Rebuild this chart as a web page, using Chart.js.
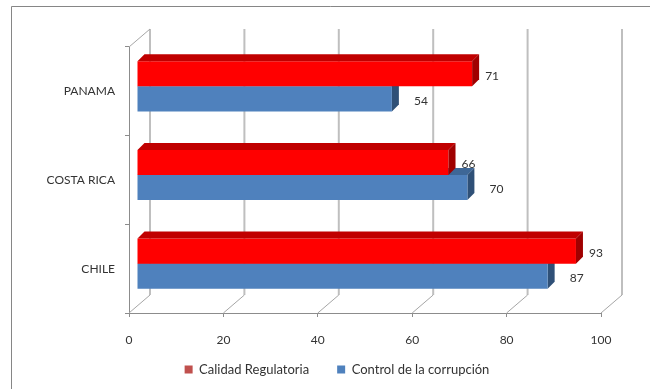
<!DOCTYPE html>
<html lang="es">
<head>
    <meta charset="UTF-8">
    <title>Calidad Regulatoria y Control de la corrupción</title>
    <script src="https://cdn.jsdelivr.net/npm/chart.js"></script>
    <style>
        body { margin: 0; background: #ffffff; }
        canvas { display: block; }
    </style>
</head>
<body>
    <canvas id="myChart" width="650" height="389"></canvas>

    <script>
        // datos
        const categories = ['PANAMA', 'COSTA RICA', 'CHILE'];
        const seriesNames = ['Calidad Regulatoria', 'Control de la corrupción'];
        const calidadRegulatoria = [71, 66, 93];
        const controlCorrupcion = [54, 70, 87];
        const xTickValues = [0, 20, 40, 60, 80, 100];

        const frontColors = ['#ff0000', '#4f81bd'];
        const topColors = ['#c00000', '#3e6797'];
        const sideColors = ['#a00000', '#2f5077'];
        const legendColors = ['#c0504d', '#4f81bd'];
        const labelOffsets = [20, 29];
        const font = { family: 'Lato', size: 12 };
        const legendFont = { family: 'Lato', size: 13 };
        const textColor = '#333333';
        const axisColor = '#8c8c8c';

        // desplazamientos del efecto 3D
        const wallDx = 21, wallDy = -18;
        const barDx = 8, barDy = -5;
        const depth = 7;

        function drawFaces(ctx, chart, i) {
            chart.getDatasetMeta(i).data.forEach(bar => {
                const p = bar.getProps(['x', 'y', 'base', 'height'], true);
                const top = p.y - p.height / 2, bottom = p.y + p.height / 2;
                ctx.fillStyle = topColors[i];
                ctx.beginPath();
                ctx.moveTo(p.base, top);
                ctx.lineTo(p.x, top);
                ctx.lineTo(p.x + depth, top - depth);
                ctx.lineTo(p.base + depth, top - depth);
                ctx.closePath();
                ctx.fill();
                ctx.fillStyle = sideColors[i];
                ctx.beginPath();
                ctx.moveTo(p.x, top);
                ctx.lineTo(p.x + depth, top - depth);
                ctx.lineTo(p.x + depth, bottom - depth);
                ctx.lineTo(p.x, bottom);
                ctx.closePath();
                ctx.fill();
            });
        }

        const plot3d = {
            id: 'plot3d',
            beforeDraw(chart) {
                const ctx = chart.ctx;
                ctx.save();
                ctx.fillStyle = '#ffffff';
                ctx.fillRect(0, 0, chart.width, chart.height);
                ctx.strokeStyle = '#868686';
                ctx.lineWidth = 1;
                ctx.beginPath();
                ctx.moveTo(11.5, chart.height);
                ctx.lineTo(11.5, 6.5);
                ctx.lineTo(chart.width, 6.5);
                ctx.stroke();
                ctx.restore();
            },
            afterLayout(chart) {
                // colocar la leyenda como en el original
                chart.legend.left += 31;
                chart.legend.right += 31;
                chart.legend.top -= 18;
            },
            beforeDatasetsDraw(chart) {
                const ctx = chart.ctx;
                const area = chart.chartArea;
                const x = chart.scales.x;
                ctx.save();
                // pared del fondo y suelo
                xTickValues.forEach(v => {
                    const xf = x.getPixelForValue(v);
                    ctx.strokeStyle = '#bfbfbf';
                    ctx.lineWidth = 2;
                    ctx.beginPath();
                    ctx.moveTo(xf + wallDx, area.bottom + wallDy);
                    ctx.lineTo(xf + wallDx, area.top + wallDy);
                    ctx.stroke();
                    ctx.strokeStyle = '#a6a6a6';
                    ctx.lineWidth = 1;
                    ctx.beginPath();
                    ctx.moveTo(xf, area.bottom);
                    ctx.lineTo(xf + wallDx, area.bottom + wallDy);
                    ctx.stroke();
                });
                ctx.beginPath();
                ctx.moveTo(area.left, area.top);
                ctx.lineTo(area.left + wallDx, area.top + wallDy);
                ctx.stroke();
                ctx.restore();

                ctx.save();
                ctx.translate(barDx, barDy);
                drawFaces(ctx, chart, 1);
            },
            afterDatasetsDraw(chart) {
                const ctx = chart.ctx;
                drawFaces(ctx, chart, 0);
                ctx.fillStyle = textColor;
                ctx.font = font.size + 'px ' + font.family;
                ctx.textAlign = 'center';
                ctx.textBaseline = 'middle';
                chart.data.datasets.forEach((ds, i) => {
                    chart.getDatasetMeta(i).data.forEach((bar, j) => {
                        const p = bar.getProps(['x', 'y'], true);
                        ctx.fillText(ds.data[j], p.x + labelOffsets[i], p.y + 2);
                    });
                });
                ctx.restore();
            }
        };

        const ctx = document.getElementById('myChart').getContext('2d');
        new Chart(ctx, {
            type: 'bar',
            data: {
                labels: categories,
                datasets: [{
                    label: seriesNames[0],
                    data: calidadRegulatoria,
                    backgroundColor: frontColors[0],
                    borderWidth: 0
                }, {
                    label: seriesNames[1],
                    data: controlCorrupcion,
                    backgroundColor: frontColors[1],
                    borderWidth: 0
                }]
            },
            options: {
                indexAxis: 'y',
                responsive: false,
                animation: false,
                categoryPercentage: 0.565,
                barPercentage: 1,
                layout: { padding: { left: 11, right: 49, top: 47, bottom: 0 } },
                scales: {
                    x: {
                        min: 0,
                        max: 100,
                        afterBuildTicks: s => { s.ticks = xTickValues.map(v => ({ value: v })); },
                        afterFit: s => { s.height = 40; },
                        grid: { drawOnChartArea: false, tickLength: 4, color: axisColor },
                        border: { color: axisColor },
                        ticks: { padding: 16, font: font, color: textColor, maxRotation: 0 }
                    },
                    y: {
                        afterFit: s => { s.width = 118; },
                        grid: { drawOnChartArea: false, tickLength: 4, color: axisColor, offset: true },
                        border: { color: axisColor },
                        ticks: { padding: 10, font: font, color: textColor }
                    }
                },
                plugins: {
                    tooltip: { enabled: false },
                    legend: {
                        position: 'bottom',
                        maxHeight: 36,
                        labels: {
                            boxWidth: 8,
                            boxHeight: 8,
                            padding: 28,
                            font: legendFont,
                            color: textColor,
                            generateLabels: chart => Chart.defaults.plugins.legend.labels.generateLabels(chart)
                                .map((item, i) => Object.assign(item, {
                                    fillStyle: legendColors[i],
                                    strokeStyle: legendColors[i],
                                    lineWidth: 0
                                }))
                        }
                    }
                }
            },
            plugins: [plot3d]
        });
    </script>
</body>
</html>
